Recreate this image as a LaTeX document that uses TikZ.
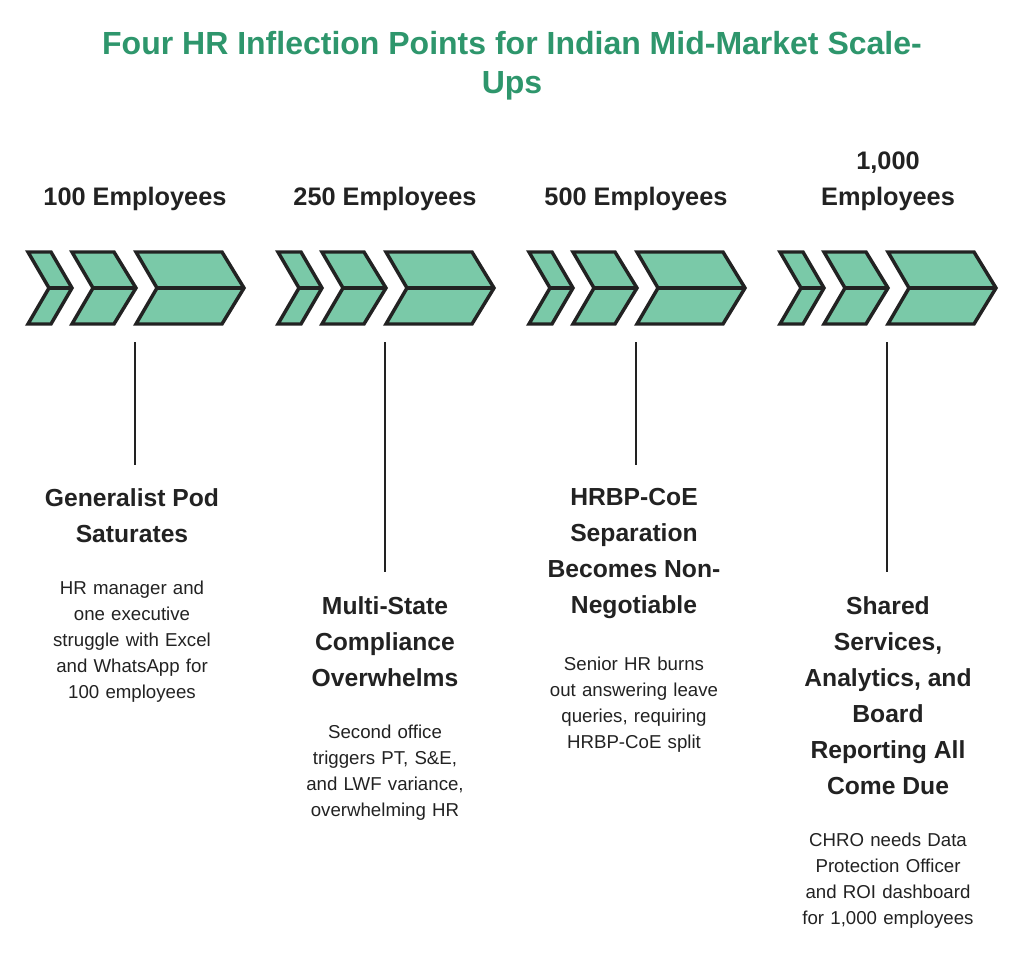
\documentclass[tikz,border=0pt]{standalone}
\usepackage{fontspec}
\setmainfont{Liberation Sans}
\usetikzlibrary{positioning}
\definecolor{titlegreen}{RGB}{46,150,108}
\definecolor{chevfill}{RGB}{122,201,168}
\definecolor{inkgray}{RGB}{34,34,34}
\hyphenpenalty=10000
\exhyphenpenalty=50

\begin{document}
\begin{tikzpicture}[
    x=0.75pt, y=-0.75pt,
    chev/.style={draw=inkgray, line width=2.6pt, line join=miter, fill=chevfill},
    stem/.style={draw=inkgray, line width=2.2pt},
    head/.style={font=\fontsize{19}{27}\selectfont\bfseries, text=inkgray, align=center, anchor=south},
    stage/.style={font=\fontsize{18.5}{27}\selectfont\bfseries, text=inkgray, align=center, anchor=north, inner sep=0pt},
    note/.style={font=\fontsize{14}{19.5}\selectfont, text=inkgray, align=center, text width=140pt, inner sep=0pt, below=9pt}]
    \useasboundingbox (0,0) rectangle (1024,959);

    % title
    \node[font=\fontsize{24}{29}\selectfont\bfseries, text=titlegreen, align=center]
        (title) at (512,66) {Four HR Inflection Points for Indian Mid-Market Scale-\\Ups};

    % chevron groups
    \foreach \i/\dx in {1/0, 2/250, 3/501, 4/752} {
        \begin{scope}[xshift=\dx*0.75pt]
            \draw[chev] (28,252) -- (51,252) -- (72,288) -- (51,324) -- (28,324) -- (49,288) -- cycle;
            \draw[chev] (72,252) -- (114,252) -- (136,288) -- (114,324) -- (72,324) -- (93,288) -- cycle;
            \draw[chev] (136,252) -- (222,252) -- (244,288) -- (222,324) -- (136,324) -- (157,288) -- cycle;
            \draw[inkgray, line width=2.6pt] (49,288) -- (72,288) (93,288) -- (136,288) (157,288) -- (244,288);
            \coordinate (top\i) at (135,342);
        \end{scope}
    }

    % headings
    \node[head] (h1) at (135,215) {100 Employees};
    \node[head] (h2) at (385,215) {250 Employees};
    \node[head] (h3) at (636,215) {500 Employees};
    \node[head] (h4) at (888,215) {1,000\\Employees};

    % stage titles
    \node[stage] (s1) at (132,488) {Generalist Pod\\Saturates};
    \node[stage] (s2) at (385,596) {Multi-State\\Compliance\\Overwhelms};
    \node[stage] (s3) at (634,488) {HRBP-CoE\\Separation\\Becomes Non-\\Negotiable};
    \node[stage] (s4) at (888,596) {Shared\\Services,\\Analytics, and\\Board\\Reporting All\\Come Due};

    % stems
    \draw[stem] (top1) -- (top1 |- 0,465);
    \draw[stem] (top2) -- (top2 |- 0,572);
    \draw[stem] (top3) -- (top3 |- 0,465);
    \draw[stem] (top4) -- (top4 |- 0,572);

    % notes
    \node[note] (n1) [below=of s1] {HR manager and one executive struggle with Excel and WhatsApp for 100 employees};
    \node[note] (n2) [below=of s2] {Second office triggers PT, S\&E, and LWF variance, overwhelming HR};
    \node[note] (n3) [below=of s3] {Senior HR burns out answering leave queries, requiring HRBP-CoE split};
    \node[note, text width=150pt] (n4) [below=of s4] {CHRO needs Data Protection Officer and ROI dashboard for 1,000 employees};
\end{tikzpicture}
\end{document}
